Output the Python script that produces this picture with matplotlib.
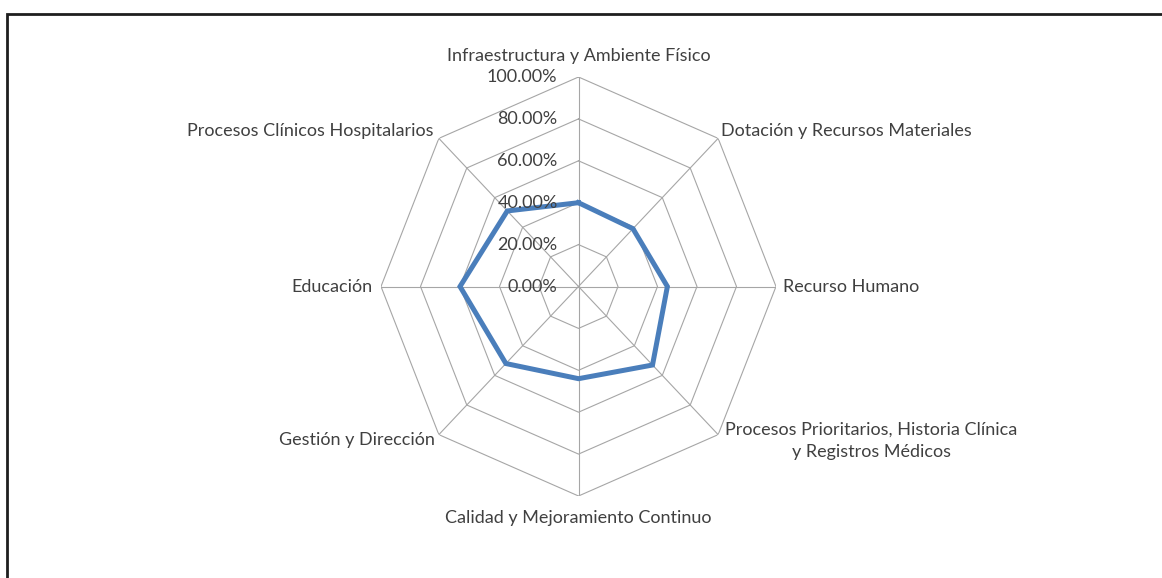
import numpy as np
import matplotlib
matplotlib.use("Agg")
import matplotlib.pyplot as plt
from matplotlib.patches import Rectangle

categories = [
    "Infraestructura y Ambiente Físico",
    "Dotación y Recursos Materiales",
    "Recurso Humano",
    "Procesos Prioritarios, Historia Clínica\ny Registros Médicos",
    "Calidad y Mejoramiento Continuo",
    "Gestión y Dirección",
    "Educación",
    "Procesos Clínicos Hospitalarios",
]
values = [0.40, 0.39, 0.45, 0.53, 0.44, 0.52, 0.60, 0.51]
levels = [0.0, 0.2, 0.4, 0.6, 0.8, 1.0]
level_labels = ["0.00%", "20.00%", "40.00%", "60.00%", "80.00%", "100.00%"]

# label placement: (dx, dy) in pixels from the outer vertex, horizontal alignment
label_place = [
    ((0, 21), "center"),
    ((3, 7), "left"),
    ((7, 0), "left"),
    ((7, -6), "left"),
    ((0, -22), "center"),
    ((-4, -5), "right"),
    ((-8, 0), "right"),
    ((-5, 7), "right"),
]

plt.rcParams["font.family"] = ["Lato", "DejaVu Sans"]
text_color = "#404040"
grid_color = "#a6a6a6"
line_color = "#4a7ebb"
fs = 13.0

W, H = 1162, 578
fig = plt.figure(figsize=(W / 100, H / 100), dpi=100)
fig.patch.set_facecolor("white")

cx, cy = 578.5, 286.5
rx, ry = 197.5, 209.5
ax = fig.add_axes([(cx - rx) / W, (H - cy - ry) / H, 2 * rx / W, 2 * ry / H],
                  projection="polar")
ax.set_aspect("auto")
ax.set_theta_zero_location("N")
ax.set_theta_direction(-1)
ax.set_ylim(0, 1)
ax.grid(False)
ax.spines["polar"].set_visible(False)
ax.set_xticks([])
ax.set_yticks([])
ax.patch.set_alpha(0)

n = len(categories)
theta = np.arange(n) * 2 * np.pi / n
theta_closed = np.append(theta, theta[0])

# polygonal rings
for lv in levels[1:]:
    ax.plot(theta_closed, [lv] * (n + 1), color=grid_color, lw=0.8, zorder=1)
# spokes
for t in theta:
    ax.plot([t, t], [0, 1], color=grid_color, lw=0.8, zorder=1)

# data series
vals_closed = values + values[:1]
ax.plot(theta_closed, vals_closed, color=line_color, lw=3.6, zorder=3,
        solid_joinstyle="miter")

# radial value labels along the top spoke
for lv, lab in zip(levels, level_labels):
    ax.annotate(lab, xy=(0, lv), xytext=(-21, 0), textcoords="offset pixels",
                ha="right", va="center", fontsize=fs, color=text_color,
                annotation_clip=False)

# category labels
for t, cat, ((dx, dy), ha) in zip(theta, categories, label_place):
    ax.annotate(cat, xy=(t, 1.0), xytext=(dx, dy), textcoords="offset pixels",
                ha=ha, va="center", multialignment="center", fontsize=fs,
                color=text_color, annotation_clip=False, linespacing=1.45)

# outer frame
fig.patches.append(Rectangle((7 / W, -0.1), 1.2, (H - 14) / H + 0.1,
                             transform=fig.transFigure, fill=False,
                             lw=2.0, ec="#1e1e1e"))

fig.savefig("out.png", dpi=100, facecolor="white")
